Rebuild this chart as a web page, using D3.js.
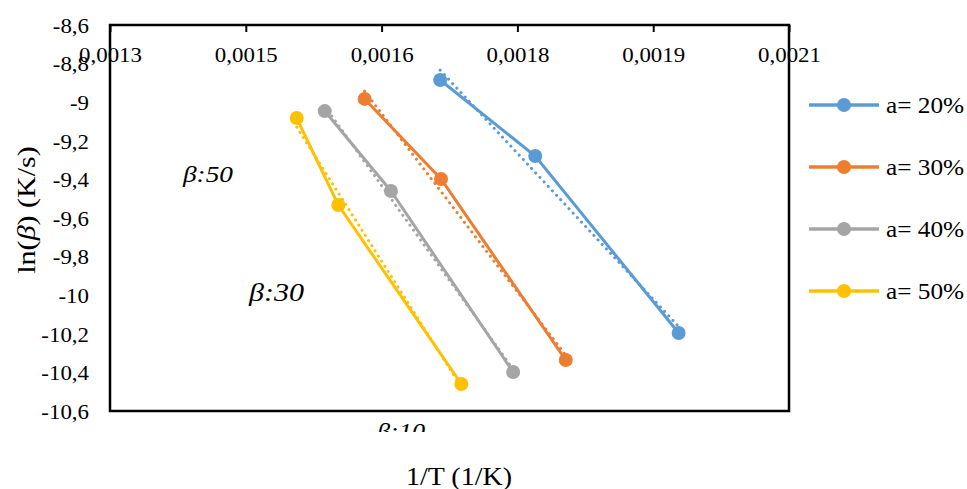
<!DOCTYPE html>
<html>
<head>
<meta charset="utf-8">
<script src="https://cdn.jsdelivr.net/npm/d3@7"></script>
<style>
  body { margin: 0; background: #fff; }
  text { font-family: "Liberation Serif", "Times New Roman", serif; fill: #000; }
</style>
</head>
<body>
<div id="chart"></div>
<script>
// data
var seriesNames = ["a= 20%", "a= 30%", "a= 40%", "a= 50%"];
var seriesColors = ["#5B9BD5", "#ED7D31", "#A5A5A5", "#FFC000"];
var x20 = [0.001689, 0.001801, 0.001970];
var y20 = [-8.885, -9.279, -10.196];
var x30 = [0.001600, 0.001690, 0.001837];
var y30 = [-8.983, -9.398, -10.336];
var x40 = [0.001553, 0.001631, 0.001775];
var y40 = [-9.046, -9.460, -10.398];
var x50 = [0.001520, 0.001569, 0.001714];
var y50 = [-9.082, -9.533, -10.460];
var xTicks = [0.0013, 0.00146, 0.00162, 0.00178, 0.00194, 0.0021];
var yTicks = [-8.6, -8.8, -9, -9.2, -9.4, -9.6, -9.8, -10, -10.2, -10.4, -10.6];
var betaLabels = ["50", "30", "10"];

var svgWidth = 967;
var svgHeight = 489;
var margin = { top: 25, right: 178, bottom: 78, left: 110 };
var width = svgWidth - margin.left - margin.right;
var height = svgHeight - margin.top - margin.bottom;

// text in the picture is a bit wider than the font
function stretch(sel, k) {
  sel.each(function() {
    var len = this.getComputedTextLength();
    d3.select(this).attr("textLength", len * k).attr("lengthAdjust", "spacingAndGlyphs");
  });
}

var svg = d3.select("#chart").append("svg")
  .attr("width", svgWidth)
  .attr("height", svgHeight);

var chartGroup = svg.append("g")
  .attr("transform", `translate(${margin.left}, ${margin.top})`);

var xScale = d3.scaleLinear().domain([0.0013, 0.0021]).range([0, width]);
var yScale = d3.scaleLinear().domain([-8.6, -10.6]).range([0, height]);

var comma = v => String(v).replace(".", ",");

// x axis sits on top, labels inside the box
var xAxis = chartGroup.append("g")
  .call(d3.axisBottom(xScale).tickValues(xTicks).tickSizeInner(7).tickSizeOuter(0)
    .tickFormat(d => comma(d.toFixed(4))));
xAxis.select(".domain").remove();
xAxis.selectAll("line").attr("stroke", "#000").attr("stroke-width", 2);
xAxis.selectAll("text").attr("y", 37).attr("dy", 0).style("font-size", "21px").call(stretch, 1.09);

// y axis labels
var yAxis = chartGroup.append("g")
  .call(d3.axisLeft(yScale).tickValues(yTicks).tickSize(0).tickPadding(21)
    .tickFormat(d => comma(+d.toFixed(1))));
yAxis.select(".domain").remove();
yAxis.selectAll("text").attr("dy", "0.35em").style("font-size", "21px").call(stretch, 1.09);

// box
chartGroup.append("rect")
  .attr("width", width)
  .attr("height", height)
  .attr("fill", "none")
  .attr("stroke", "#000")
  .attr("stroke-width", 2.5);

var allX = [x20, x30, x40, x50];
var allY = [y20, y30, y40, y50];

allX.forEach(function(xs, i) {
  var pts = xs.map((v, j) => [v, allY[i][j]]);
  var color = seriesColors[i];

  chartGroup.append("path")
    .datum(pts)
    .attr("fill", "none")
    .attr("stroke", color)
    .attr("stroke-width", 3)
    .attr("d", d3.line().x(d => xScale(d[0])).y(d => yScale(d[1])));

  chartGroup.selectAll(null)
    .data(pts)
    .enter()
    .append("circle")
    .attr("cx", d => xScale(d[0]))
    .attr("cy", d => yScale(d[1]))
    .attr("r", 7)
    .attr("fill", color);

  // linear trendline
  var mx = d3.mean(xs), my = d3.mean(allY[i]);
  var sxy = d3.sum(pts, d => (d[0] - mx) * (d[1] - my));
  var sxx = d3.sum(pts, d => (d[0] - mx) * (d[0] - mx));
  var slope = sxy / sxx;
  var ends = d3.extent(xs).map(v => [v, my + slope * (v - mx)]);
  chartGroup.append("path")
    .datum(ends)
    .attr("fill", "none")
    .attr("stroke", color)
    .attr("stroke-width", 3)
    .attr("stroke-linecap", "round")
    .attr("stroke-dasharray", "0.1,6")
    .attr("d", d3.line().x(d => xScale(d[0])).y(d => yScale(d[1])));
});

// beta labels
svg.append("clipPath").attr("id", "clipB")
  .append("rect").attr("x", 0).attr("y", 0).attr("width", svgWidth).attr("height", 432);

var betaPos = [[183, 182, 24, 50], [249, 301, 26, 55], [377, 439, 24, 48]];
betaLabels.forEach(function(b, i) {
  svg.append("text")
    .attr("x", betaPos[i][0])
    .attr("y", betaPos[i][1])
    .attr("clip-path", "url(#clipB)")
    .style("font-style", "italic")
    .style("font-size", betaPos[i][2] + "px")
    .attr("textLength", betaPos[i][3])
    .attr("lengthAdjust", "spacingAndGlyphs")
    .text("β:" + b);
});

// axis titles
svg.append("text")
  .attr("x", 459)
  .attr("y", 485)
  .attr("text-anchor", "middle")
  .style("font-size", "25px")
  .text("1/T (1/K)")
  .call(stretch, 1.12);

var yTitle = svg.append("text")
  .attr("transform", "translate(35, 210) rotate(-90)")
  .attr("text-anchor", "middle")
  .style("font-size", "25px");
yTitle.append("tspan").text("ln(");
yTitle.append("tspan").style("font-style", "italic").text("β");
yTitle.append("tspan").text(") (K/s)");
yTitle.call(stretch, 1.2);

// legend
var legend = svg.append("g");
seriesNames.forEach(function(name, i) {
  var ly = 105 + i * 62;
  legend.append("line")
    .attr("x1", 809).attr("x2", 879)
    .attr("y1", ly).attr("y2", ly)
    .attr("stroke", seriesColors[i])
    .attr("stroke-width", 3.5);
  legend.append("circle")
    .attr("cx", 844).attr("cy", ly).attr("r", 7)
    .attr("fill", seriesColors[i]);
  legend.append("text")
    .attr("x", 886).attr("y", ly + 8)
    .style("font-size", "23px")
    .text(name)
    .call(stretch, 1.1);
});
</script>
</body>
</html>
